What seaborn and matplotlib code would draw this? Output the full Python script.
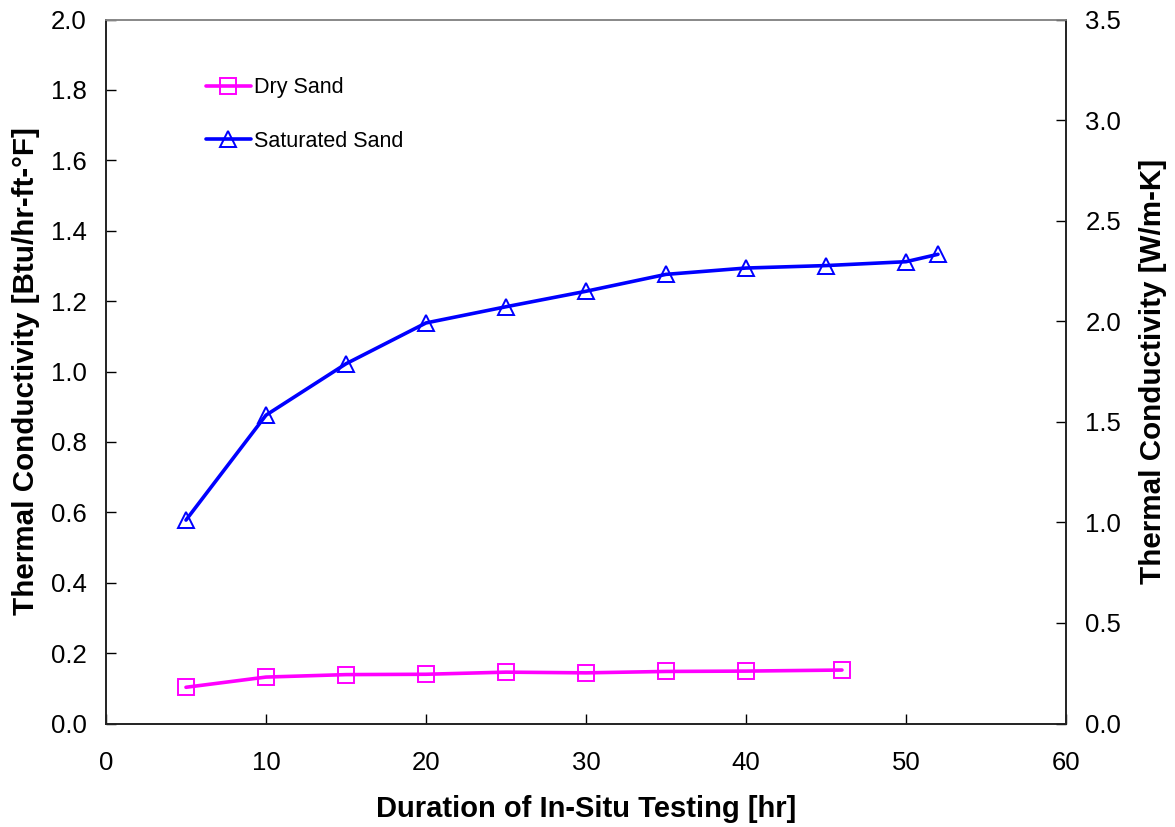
import matplotlib
matplotlib.use("Agg")
import matplotlib.pyplot as plt
import seaborn as sns
import pandas as pd

# Thermal conductivity measured during in-situ testing
dry_hours = [5, 10, 15, 20, 25, 30, 35, 40, 46]
dry_k = [0.103, 0.132, 0.139, 0.140, 0.146, 0.144, 0.148, 0.149, 0.152]

sat_hours = [5, 10, 15, 20, 25, 30, 35, 40, 45, 50, 52]
sat_k = [0.578, 0.876, 1.022, 1.138, 1.184, 1.228, 1.276, 1.294, 1.301, 1.312, 1.333]

x_ticks = [0, 10, 20, 30, 40, 50, 60]
left_ticks = [0.0, 0.2, 0.4, 0.6, 0.8, 1.0, 1.2, 1.4, 1.6, 1.8, 2.0]
right_ticks = [0.0, 0.5, 1.0, 1.5, 2.0, 2.5, 3.0, 3.5]

sns.set_theme(style="white")
plt.rcParams["font.family"] = ["Liberation Sans", "DejaVu Sans"]
plt.rcParams.update({"text.color": "black", "axes.labelcolor": "black",
                     "xtick.color": "black", "ytick.color": "black"})

fig = plt.figure(figsize=(11.75, 8.27), dpi=100)
ax = fig.add_axes([0.0902, 0.1251, 0.8170, 0.8513])

dry = pd.DataFrame({"hours": dry_hours, "k": dry_k})
sat = pd.DataFrame({"hours": sat_hours, "k": sat_k})

common = dict(linewidth=2.6, markersize=11, markerfacecolor="none",
              markeredgewidth=1.4)
sns.lineplot(data=dry, x="hours", y="k", ax=ax, color="#FF00FF", marker="s",
             markeredgecolor="#FF00FF", label="Dry Sand", **common)
sns.lineplot(data=sat, x="hours", y="k", ax=ax, color="#0000FF", marker="^",
             markeredgecolor="#0000FF", label="Saturated Sand", **common)

ax.set_xlim(0, 60)
ax.set_ylim(0, 2.0)
ax.set_xticks(x_ticks)
ax.set_yticks(left_ticks)
ax.set_yticklabels([f"{v:.1f}" for v in left_ticks])
ax.set_xlabel("Duration of In-Situ Testing [hr]", fontsize=21,
              fontweight="bold", labelpad=14)
ax.set_ylabel("Thermal Conductivity [Btu/hr-ft-°F]", fontsize=21.3,
              fontweight="bold", labelpad=8)
ax.tick_params(axis="both", direction="in", length=7, width=1,
               labelsize=18.5, pad=14)
ax.tick_params(axis="x", pad=20)
ax.tick_params(top=False, right=False, bottom=True, left=True)

for side in ["left", "bottom", "right"]:
    ax.spines[side].set_color("#222222")
    ax.spines[side].set_linewidth(1.2)
ax.spines["top"].set_color("#888888")
ax.spines["top"].set_linewidth(1.2)

ax2 = ax.twinx()
ax2.set_ylim(0, 3.5)
ax2.set_yticks(right_ticks)
ax2.set_yticklabels([f"{v:.1f}" for v in right_ticks])
ax2.set_ylabel("Thermal Conductivity [W/m-K]", fontsize=21.3,
               fontweight="bold", labelpad=13)
ax2.tick_params(axis="y", direction="in", length=7, width=1,
                labelsize=18.5, pad=14)
for side in ["left", "bottom", "right"]:
    ax2.spines[side].set_color("#222222")
    ax2.spines[side].set_linewidth(1.2)
ax2.spines["top"].set_color("#888888")
ax2.spines["top"].set_linewidth(1.2)
ax2.grid(False)
ax.grid(False)

leg = ax.legend(loc="upper left", bbox_to_anchor=(0.095, 0.93), frameon=False,
                fontsize=15.5, labelspacing=1.5, handlelength=2.1,
                handletextpad=0.15, borderaxespad=0)

fig.savefig("out.png", dpi=100, facecolor="white")
